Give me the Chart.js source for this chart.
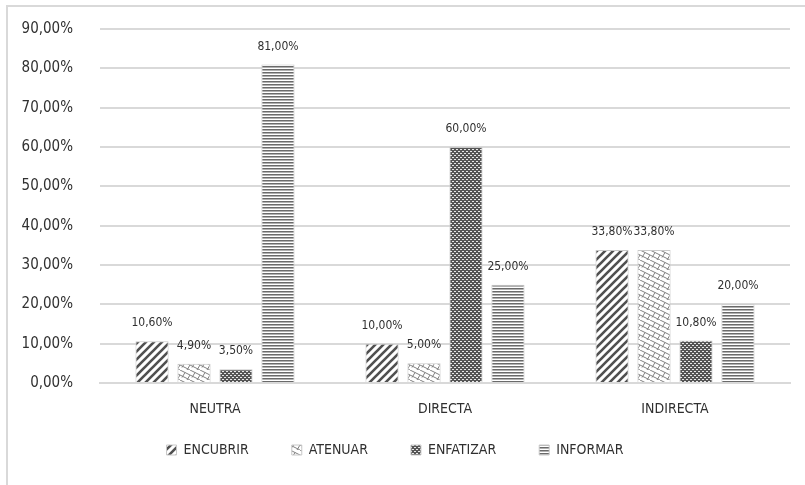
<!DOCTYPE html>
<html>
<head>
<meta charset="utf-8">
<script src="https://cdn.jsdelivr.net/npm/chart.js@4.4.1/dist/chart.umd.min.js"></script>
<style>
body { margin: 0; background: #fff; }
#wrap { position: absolute; left: 0; top: 0; width: 805px; height: 485px; }
#frame { position: absolute; left: 6px; top: 5px; width: 805px; height: 485px; border-left: 2px solid #d9d9d9; border-top: 2px solid #d9d9d9; }
canvas { position: absolute; left: 0; top: 0; }
</style>
</head>
<body>
<div id="wrap">
<div id="frame"></div>
<canvas id="barChart" width="805" height="485"></canvas>
</div>
<script>
var categories = ["NEUTRA", "DIRECTA", "INDIRECTA"];
var encubrir = [10.6, 10.0, 33.8];
var atenuar = [4.9, 5.0, 33.8];
var enfatizar = [3.5, 60.0, 10.8];
var informar = [81.0, 25.0, 20.0];
var yTicks = [0, 10, 20, 30, 40, 50, 60, 70, 80, 90];

var FONT = '"Liberation Sans Narrow", "DejaVu Sans Condensed", "Roboto", sans-serif';
var TXT = '#303030';

function fmt(v) {
  return v.toFixed(2).replace('.', ',') + '%';
}

// patterns
function tile(w, h, draw) {
  var c = document.createElement('canvas');
  c.width = w; c.height = h;
  var g = c.getContext('2d');
  g.fillStyle = '#fff';
  g.fillRect(0, 0, w, h);
  draw(g);
  return g.createPattern(c, 'repeat');
}
var patStripes = tile(8, 8, function (g) {
  g.strokeStyle = '#505050';
  g.lineWidth = 2.6;
  g.beginPath();
  g.moveTo(-2, 10); g.lineTo(10, -2);
  g.moveTo(-6, 6); g.lineTo(6, -6);
  g.moveTo(2, 14); g.lineTo(14, 2);
  g.stroke();
});
var patTrellis = tile(10, 10, function (g) {
  g.strokeStyle = '#808080';
  g.lineWidth = 1;
  g.beginPath();
  g.moveTo(0, 0); g.lineTo(10, 5);
  g.moveTo(0, 5); g.lineTo(10, 10);
  g.moveTo(5, 2.5); g.lineTo(2, 7.5);
  g.moveTo(10, 5); g.lineTo(7, 10);
  g.stroke();
});
var patDots = tile(4, 4, function (g) {
  g.fillStyle = '#555';
  g.fillRect(0, 0, 4, 4);
  g.fillStyle = '#e8e8e8';
  g.fillRect(0, 1, 2, 1);
  g.fillRect(2, 3, 2, 1);
});
var patLines = tile(4, 3, function (g) {
  g.fillStyle = '#6a6a6a';
  g.fillRect(0, 0, 4, 1);
  g.fillStyle = '#b0b0b0';
  g.fillRect(0, 1, 4, 1);
});

var valueLabels = {
  id: 'valueLabels',
  afterDatasetsDraw: function (chart) {
    var ctx = chart.ctx;
    ctx.save();
    ctx.font = '12px ' + FONT;
    ctx.fillStyle = TXT;
    ctx.textAlign = 'center';
    ctx.textBaseline = 'middle';
    chart.data.datasets.forEach(function (ds, i) {
      chart.getDatasetMeta(i).data.forEach(function (bar, j) {
        ctx.fillText(fmt(ds.data[j]), bar.x, bar.y - 18);
      });
    });
    ctx.restore();
  }
};

// legend sits closer to the category labels than chart.js would put it
var legendShift = {
  id: 'legendShift',
  afterLayout: function (chart) {
    var lg = chart.legend;
    var h = lg.bottom - lg.top;
    lg.top = chart.chartArea.bottom + 17;
    lg.bottom = lg.top + h;
  }
};

var ctx = document.getElementById('barChart').getContext('2d');
var myBarChart = new Chart(ctx, {
  type: 'bar',
  data: {
    labels: categories,
    datasets: [
      { label: 'ENCUBRIR', data: encubrir, backgroundColor: patStripes, borderColor: '#c8c8c8', borderWidth: 1 },
      { label: 'ATENUAR', data: atenuar, backgroundColor: patTrellis, borderColor: '#c8c8c8', borderWidth: 1 },
      { label: 'ENFATIZAR', data: enfatizar, backgroundColor: patDots, borderColor: '#c8c8c8', borderWidth: 1 },
      { label: 'INFORMAR', data: informar, backgroundColor: patLines, borderColor: '#c8c8c8', borderWidth: 1 }
    ]
  },
  options: {
    responsive: false,
    animation: false,
    categoryPercentage: 0.73,
    barPercentage: 0.79,
    layout: { padding: { left: 0, right: 15, top: 29, bottom: 0 } },
    plugins: {
      tooltip: { enabled: false },
      legend: {
        position: 'bottom',
        maxHeight: 58,
        labels: {
          boxWidth: 10,
          boxHeight: 10,
          padding: 43,
          color: TXT,
          font: { family: FONT, size: 14 }
        }
      }
    },
    scales: {
      x: {
        afterFit: function (s) { s.height = 44; },
        grid: { display: false },
        border: { color: '#d9d9d9', width: 2 },
        ticks: { color: TXT, padding: 10, font: { family: FONT, size: 14 } }
      },
      y: {
        min: 0,
        max: 90,
        afterFit: function (s) { s.width = 100; s.paddingTop = 0; s.paddingBottom = 0; },
        afterBuildTicks: function (s) { s.ticks = yTicks.map(function (v) { return { value: v }; }); },
        grid: { color: '#d9d9d9', lineWidth: 2, drawTicks: false },
        border: { display: false },
        ticks: {
          color: TXT,
          padding: 27,
          font: { family: FONT, size: 15 },
          callback: function (v) { return fmt(v); }
        }
      }
    }
  },
  plugins: [valueLabels, legendShift]
});
</script>
</body>
</html>
